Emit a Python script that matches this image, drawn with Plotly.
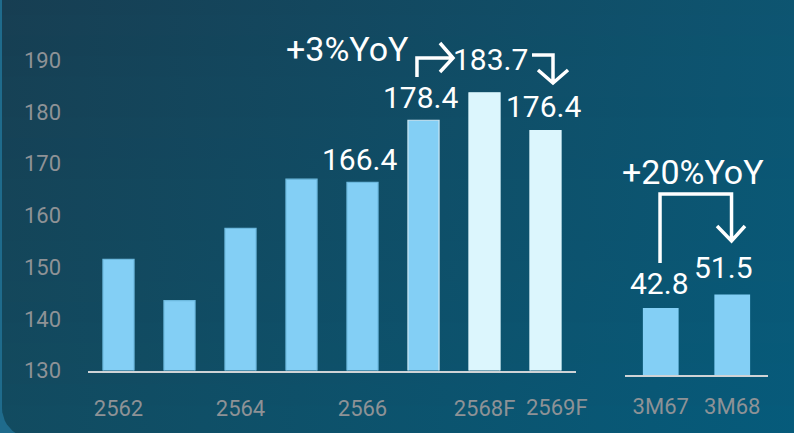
import numpy as np
import plotly.graph_objects as go

# ---------------- data ----------------
years = ["2562", "2563", "2564", "2565", "2566", "2567", "2568F", "2569F"]
year_values = [151.5, 143.5, 157.5, 167.0, 166.4, 178.4, 183.7, 176.4]
year_labels = ["", "", "", "", "166.4", "178.4", "183.7", "176.4"]
year_ticks = ["2562", "2564", "2566", "2568F"]

quarters = ["3M67", "3M68"]
quarter_values = [42.8, 51.5]
quarter_labels = ["42.8", "51.5"]

yoy_texts = ["+3%YoY", "-4%YoY", "+20%YoY"]
y_ticks = [130, 140, 150, 160, 170, 180, 190]

# ---------------- styles ----------------
FONT = "Roboto"
BAR = "#83cff5"
BAR_EDGE = "#6cb9de"
FC = "#dcf6fd"
HL_EDGE = "#cde8f5"
GREY = "#8e9296"
AXIS = "#cfd3d6"
W, H = 794, 433

bar_colors = [BAR] * 6 + [FC] * 2
edge_colors = [BAR_EDGE] * 5 + [HL_EDGE] + [FC] * 2

# corner colours of the background panel
TL, TR = (23, 62, 82), (13, 85, 113)
BL, BR = (18, 75, 96), (6, 91, 123)


def mix(a, b, t):
    return tuple(a[i] + (b[i] - a[i]) * t for i in range(3))


def rgb(c):
    return "rgb(%d,%d,%d)" % tuple(round(v) for v in c)


fig = go.Figure()

# ---------- background panel (gradient, rounded bottom-left corner) ----------
r = 30
left, top, right, bottom = 2, -5, 800, 438
t = np.linspace(np.pi / 2, np.pi, 12)
bx = [left, right, right] + list(left + r + r * np.cos(t)) + [left]
by = [top, top, bottom] + list(bottom - r + r * np.sin(t)) + [top]
fig.add_trace(go.Scatter(
    x=bx, y=by, mode="lines", fill="toself", line=dict(width=0),
    fillgradient=dict(type="horizontal", colorscale=[[0, rgb(BL)], [1, rgb(BR)]]),
    xaxis="x", yaxis="y", hoverinfo="skip", showlegend=False))

nb = 20
edges = np.linspace(top, 405, nb + 1)
for k in range(nb):
    y0, y1 = edges[k], edges[k + 1]
    f = ((y0 + y1) / 2) / H
    cl = mix(TL, BL, f)
    cr = mix(TR, BR, f)
    fig.add_trace(go.Scatter(
        x=[left, right, right, left, left], y=[y0 - 0.6, y0 - 0.6, y1 + 0.6, y1 + 0.6, y0 - 0.6],
        mode="lines", fill="toself", line=dict(width=0),
        fillgradient=dict(type="horizontal", colorscale=[[0, rgb(cl)], [1, rgb(cr)]]),
        xaxis="x", yaxis="y", hoverinfo="skip", showlegend=False))

# ---------------- bars ----------------
xi = list(range(len(years)))
fig.add_trace(go.Bar(
    x=xi, y=year_values, width=0.51,
    marker=dict(color=bar_colors, line=dict(color=edge_colors, width=1.2)),
    xaxis="x2", yaxis="y2", showlegend=False, hoverinfo="skip"))

qi = list(range(len(quarters)))
fig.add_trace(go.Bar(
    x=qi, y=quarter_values, width=0.5,
    marker=dict(color=BAR, line=dict(width=0)),
    xaxis="x3", yaxis="y3", showlegend=False, hoverinfo="skip"))

# ---------------- annotations ----------------
ann = []
label_shift = {4: (-3, 23), 5: (-3, 23), 6: (6, 33), 7: (-2, 24)}
for i, lab in enumerate(year_labels):
    if lab:
        dx, dy = label_shift[i]
        ann.append(dict(x=i, y=year_values[i], xref="x2", yref="y2", text=lab,
                        showarrow=False, xanchor="center", yanchor="middle",
                        xshift=dx, yshift=dy,
                        font=dict(family=FONT, size=30, color="white")))
q_shift = [(-1, 25), (-9, 27)]
for i, lab in enumerate(quarter_labels):
    dx, dy = q_shift[i]
    ann.append(dict(x=i, y=quarter_values[i], xref="x3", yref="y3", text=lab,
                    showarrow=False, xanchor="center", yanchor="middle",
                    xshift=dx, yshift=dy,
                    font=dict(family=FONT, size=30, color="white")))

# YoY texts
ann.append(dict(x=3.76, y=192.2, xref="x2", yref="y2", text=yoy_texts[0], showarrow=False,
                font=dict(family=FONT, size=34, color="white")))
ann.append(dict(x=7.84, y=195.5, xref="x2", yref="y2", text=yoy_texts[1], showarrow=False,
                font=dict(family=FONT, size=34, color="white")))
ann.append(dict(x=0.45, y=129.7, xref="x3", yref="y3", text=yoy_texts[2], showarrow=False,
                font=dict(family=FONT, size=34, color="white")))

# shifted last tick label
ann.append(dict(x=7, y=0, xref="x2", yref="y2 domain", text="2569F", showarrow=False,
                xshift=11, yshift=-37, yanchor="middle",
                font=dict(family=FONT, size=22, color=GREY)))

# ---------------- arrows ----------------
LW = 3.5
shapes = [
    dict(type="path", xref="x2", yref="y2",
         path="M4.893,186.77 L4.893,190.44 L5.484,190.44 M5.27,193.35 L5.484,190.44 L5.27,187.74",
         line=dict(color="white", width=LW)),
    dict(type="path", xref="x2", yref="y2",
         path="M6.779,191.03 L7.123,191.03 L7.123,185.61 M6.877,188.12 L7.123,185.61 L7.369,188.12",
         line=dict(color="white", width=LW)),
    dict(type="path", xref="x3", yref="y3",
         path="M-0.01,71.6 L-0.01,115.65 L0.99,115.65 L0.99,85.6 M0.787,95.2 L0.99,85.6 L1.178,95.2",
         line=dict(color="white", width=LW)),
]

top_frac = 1 - 8.6 / H
fig.update_layout(
    width=W, height=H, margin=dict(l=0, r=0, t=0, b=0, pad=0),
    paper_bgcolor="#1f6b8c", plot_bgcolor="rgba(0,0,0,0)",
    font=dict(family=FONT),
    annotations=ann, shapes=shapes,
    xaxis=dict(domain=[0, 1], range=[0, W], visible=False, fixedrange=True, automargin=False),
    yaxis=dict(domain=[0, 1], range=[H, 0], visible=False, fixedrange=True, automargin=False),
    xaxis2=dict(domain=[88 / W, 576 / W], range=[-0.5, 7.5], anchor="y2", automargin=False,
                tickvals=[0, 2, 4, 6], ticktext=year_ticks,
                showline=True, linecolor=AXIS, linewidth=2, showgrid=False, zeroline=False,
                ticks="", ticklabelstandoff=17,
                tickfont=dict(family=FONT, size=22, color=GREY)),
    yaxis2=dict(domain=[1 - 370.5 / H, top_frac], range=[130, 200], anchor="x2", automargin=False,
                tickvals=y_ticks, showgrid=False, zeroline=False, showline=False,
                ticks="", ticklabelstandoff=26,
                tickfont=dict(family=FONT, size=22, color=GREY)),
    xaxis3=dict(domain=[625 / W, 768 / W], range=[-0.5, 1.5], anchor="y3", automargin=False,
                tickvals=qi, ticktext=quarters,
                showline=True, linecolor=AXIS, linewidth=2, showgrid=False, zeroline=False,
                ticks="", ticklabelstandoff=11,
                tickfont=dict(family=FONT, size=22, color=GREY)),
    yaxis3=dict(domain=[1 - 375 / H, top_frac], range=[0, (375 - 8.6) / 1.565], anchor="x3",
                automargin=False, visible=False, showgrid=False, zeroline=False),
)

fig.write_html("out.html")
